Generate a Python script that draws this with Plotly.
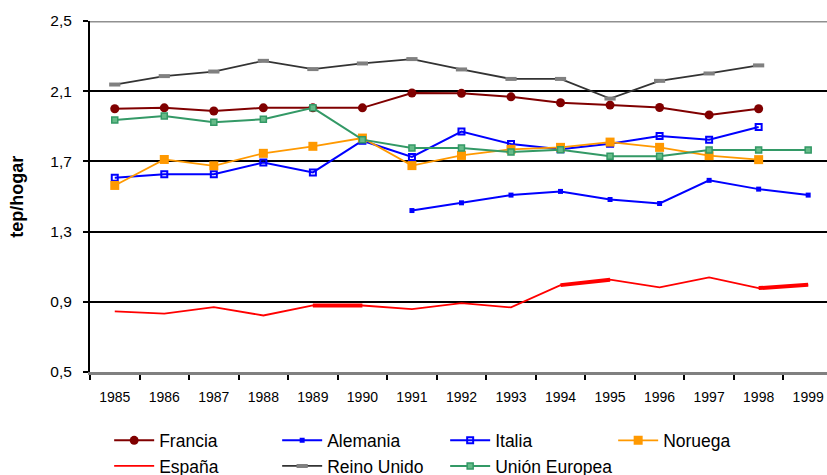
import plotly.graph_objects as go

years = [str(y) for y in range(1985, 2000)]

francia = [2.00, 2.005, 1.987, 2.005, 2.005, 2.005, 2.09, 2.088, 2.068, 2.034, 2.021, 2.007, 1.965, 2.00, None]
alemania = [None, None, None, None, None, None, 1.42, 1.464, 1.508, 1.529, 1.483, 1.46, 1.592, 1.542, 1.508]
italia = [1.607, 1.627, 1.627, 1.694, 1.637, 1.818, 1.725, 1.870, 1.799, 1.769, 1.801, 1.845, 1.824, 1.896, None]
noruega = [1.563, 1.711, 1.675, 1.746, 1.786, 1.833, 1.676, 1.734, 1.769, 1.780, 1.810, 1.780, 1.733, 1.710, None]
espana = [0.845, 0.833, 0.870, 0.822, 0.879, 0.879, 0.858, 0.893, 0.868, 0.995, 1.026, 0.982, 1.039, 0.978, 0.997]
espana_thick_mask = [False, False, False, False, True, True, False, False, False, True, True, False, False, True, True]
reino_unido = [2.138, 2.186, 2.212, 2.273, 2.226, 2.258, 2.283, 2.224, 2.170, 2.170, 2.058, 2.159, 2.201, 2.247, None]
union_europea = [1.936, 1.959, 1.923, 1.940, 2.005, 1.824, 1.776, 1.776, 1.753, 1.767, 1.730, 1.730, 1.765, 1.765, 1.765]

yticks = [0.5, 0.9, 1.3, 1.7, 2.1, 2.5]

FONT = "Liberation Sans, Arial, sans-serif"

fig = go.Figure()

fig.add_trace(go.Scatter(x=years, y=francia, name="Francia", mode="lines+markers",
                         line=dict(color="#800000", width=2),
                         marker=dict(symbol="circle", size=9, color="#800000"),
                         legend="legend"))
fig.add_trace(go.Scatter(x=years, y=alemania, name="Alemania", mode="lines+markers",
                         line=dict(color="#0000FF", width=2),
                         marker=dict(symbol="square", size=5, color="#0000FF"),
                         legend="legend"))
fig.add_trace(go.Scatter(x=years, y=italia, name="Italia", mode="lines+markers",
                         line=dict(color="#0000FF", width=2),
                         marker=dict(symbol="square-open", size=6, color="#0000FF",
                                     line=dict(width=2, color="#0000FF")),
                         legend="legend"))
fig.add_trace(go.Scatter(x=years, y=noruega, name="Noruega", mode="lines+markers",
                         line=dict(color="#FF9900", width=1.8),
                         marker=dict(symbol="square", size=9, color="#FF9900"),
                         legend="legend"))
fig.add_trace(go.Scatter(x=years, y=espana, name="España", mode="lines",
                         line=dict(color="#FF0000", width=1.8),
                         legend="legend2"))
fig.add_trace(go.Scatter(x=years,
                         y=[v if m else None for v, m in zip(espana, espana_thick_mask)],
                         name="España", mode="lines", showlegend=False,
                         line=dict(color="#FF0000", width=4), hoverinfo="skip"))
fig.add_trace(go.Scatter(x=years, y=reino_unido, name="Reino Unido", mode="lines+markers",
                         line=dict(color="#333333", width=1.8),
                         marker=dict(symbol="line-ew", size=8, color="#808080",
                                     line=dict(width=4, color="#808080")),
                         legend="legend2"))
fig.add_trace(go.Scatter(x=years, y=union_europea, name="Unión Europea", mode="lines+markers",
                         line=dict(color="#339966", width=2),
                         marker=dict(symbol="square", size=6, color="#66BB88",
                                     line=dict(width=1.5, color="#339966")),
                         legend="legend2"))

legend_common = dict(orientation="h", xref="paper", yref="paper", xanchor="left", yanchor="middle",
                     font=dict(family=FONT, size=17.5, color="#000000"),
                     itemwidth=40, entrywidth=113, bgcolor="rgba(0,0,0,0)",
                     itemclick=False, itemdoubleclick=False, traceorder="normal")

fig.update_layout(
    width=827, height=475,
    margin=dict(l=90, r=0, t=21, b=103, autoexpand=False),
    paper_bgcolor="white", plot_bgcolor="white",
    separators=",.",
    font=dict(family=FONT, color="#000000"),
    showlegend=True,
    legend=dict(legend_common, x=0.026, y=-0.195),
    legend2=dict(legend_common, x=0.026, y=-0.268),
    xaxis=dict(type="category", range=[-0.5, 14.38], tickson="boundaries",
               showgrid=False, showline=True, linecolor="#808080", linewidth=3,
               ticks="outside", ticklen=5, tickcolor="#000000", tickwidth=1.5,
               tickfont=dict(family=FONT, size=14, color="#000000"),
               ticklabelstandoff=10, fixedrange=True, automargin=False),
    yaxis=dict(range=[0.5, 2.5], tickvals=yticks, tickformat=".1f",
               showgrid=True, gridcolor="#000000", gridwidth=2,
               showline=True, linecolor="#000000", linewidth=2,
               ticks="outside", ticklen=5, tickcolor="#000000", tickwidth=1.5,
               tickfont=dict(family=FONT, size=15.5, color="#000000"),
               ticklabelstandoff=8, zeroline=False, fixedrange=True, automargin=False),
    shapes=[dict(type="line", xref="paper", yref="y", x0=0, x1=1, y0=2.5, y1=2.5,
                 line=dict(color="#909090", width=3), layer="above")],
    annotations=[dict(text="<b>tep/hogar</b>", textangle=-90, xref="paper", yref="paper",
                      x=-0.1, y=0.5, xanchor="center", yanchor="middle", showarrow=False,
                      font=dict(family=FONT, size=18, color="#000000"))],
)

fig.write_html("out.html", config={"displayModeBar": False},
               post_script="document.body.style.margin='0';document.body.style.overflow='hidden';")
